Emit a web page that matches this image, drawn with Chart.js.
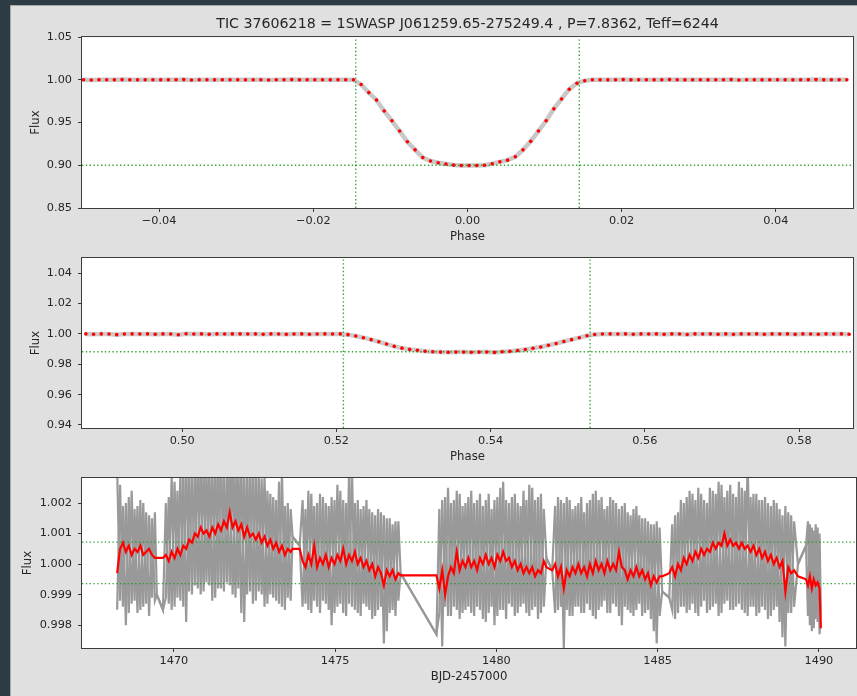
<!DOCTYPE html>
<html>
<head>
<meta charset="utf-8">
<script src="https://cdn.jsdelivr.net/npm/chart.js@4.4.1/dist/chart.umd.min.js"></script>
<style>
  html, body { margin: 0; padding: 0; background: #2d3b42; overflow: hidden; }
  #fig { position: absolute; left: 10px; top: 5px; width: 847px; height: 691px; background: #e0e0e0;
         border-left: 1px solid #a8a8a8; border-top: 1px solid #a8a8a8; }
  canvas { position: absolute; left: 11px; }
</style>
</head>
<body>
<div id="fig"></div>
<canvas id="c1" width="846" height="246" style="top:6px"></canvas>
<canvas id="c2" width="846" height="222" style="top:252px"></canvas>
<canvas id="c3" width="846" height="222" style="top:474px"></canvas>
<script>
Chart.defaults.font.family = "'DejaVu Sans', sans-serif";
Chart.defaults.font.size = 11.3;
Chart.defaults.color = '#262626';

const title = 'TIC 37606218 = 1SWASP J061259.65-275249.4 , P=7.8362, Teff=6244';

// --- top: primary transit, binned flux vs phase
const phase1 = [
  -0.0498, -0.0488, -0.0478, -0.0468, -0.0458, -0.0448, -0.0438, -0.0428, -0.0418, -0.0408,
  -0.0398, -0.0388, -0.0378, -0.0368, -0.0358, -0.0348, -0.0338, -0.0328, -0.0318, -0.0308,
  -0.0298, -0.0288, -0.0278, -0.0268, -0.0258, -0.0248, -0.0238, -0.0228, -0.0218, -0.0208,
  -0.0198, -0.0188, -0.0178, -0.0168, -0.0158, -0.0148, -0.0138, -0.0128, -0.0118, -0.0108,
  -0.0098, -0.0088, -0.0078, -0.0068, -0.0058, -0.0048, -0.0038, -0.0028, -0.0018, -0.0008,
  0.0002, 0.0012, 0.0022, 0.0032, 0.0042, 0.0052, 0.0062, 0.0072, 0.0082, 0.0092,
  0.0102, 0.0112, 0.0122, 0.0132, 0.0142, 0.0152, 0.0162, 0.0172, 0.0182, 0.0192,
  0.0202, 0.0212, 0.0222, 0.0232, 0.0242, 0.0252, 0.0262, 0.0272, 0.0282, 0.0292,
  0.0302, 0.0312, 0.0322, 0.0332, 0.0342, 0.0352, 0.0362, 0.0372, 0.0382, 0.0392,
  0.0402, 0.0412, 0.0422, 0.0432, 0.0442, 0.0452, 0.0462, 0.0472, 0.0482, 0.0492
];
const flux1 = [
  1.0000, 0.9998, 1.0001, 1.0000, 0.9999, 1.0002, 1.0000, 0.9999, 1.0001, 1.0000,
  0.9999, 1.0001, 1.0000, 1.0002, 0.9998, 1.0000, 1.0001, 0.9999, 1.0000, 1.0001,
  1.0000, 0.9999, 1.0001, 1.0000, 0.9998, 1.0001, 1.0000, 1.0002, 0.9999, 1.0000,
  1.0001, 1.0000, 0.9999, 1.0001, 1.0000, 1.0000, 0.9945, 0.9850, 0.9762, 0.9635,
  0.9520, 0.9400, 0.9275, 0.9180, 0.9090, 0.9050, 0.9030, 0.9015, 0.9002, 0.8998,
  0.8997, 0.8998, 0.9000, 0.9018, 0.9040, 0.9060, 0.9100, 0.9180, 0.9280, 0.9400,
  0.9520, 0.9660, 0.9776, 0.9890, 0.9960, 0.9988, 1.0000, 1.0001, 0.9999, 1.0000,
  1.0002, 0.9999, 1.0000, 1.0001, 0.9999, 1.0000, 1.0002, 1.0000, 0.9999, 1.0001,
  1.0000, 0.9999, 1.0001, 1.0000, 1.0002, 0.9998, 1.0000, 1.0001, 0.9999, 1.0000,
  1.0001, 1.0000, 0.9999, 1.0001, 1.0000, 1.0002, 0.9999, 1.0000, 1.0001, 1.0000
];
const xRange1 = [-0.05, 0.05];
const yRange1 = [0.85, 1.05];
const edges1 = [-0.0145, 0.0145];
const level1 = 0.90;
const xTicks1 = [-0.04, -0.02, 0.00, 0.02, 0.04];
const xLabels1 = ['\u22120.04', '\u22120.02', '0.00', '0.02', '0.04'];
const yTicks1 = [0.85, 0.90, 0.95, 1.00, 1.05];
const yLabels1 = ['0.85', '0.90', '0.95', '1.00', '1.05'];

// --- middle: secondary eclipse
const phase2 = [
  0.4875, 0.4885, 0.4895, 0.4905, 0.4915, 0.4925, 0.4935, 0.4945, 0.4955, 0.4965,
  0.4975, 0.4985, 0.4995, 0.5005, 0.5015, 0.5025, 0.5035, 0.5045, 0.5055, 0.5065,
  0.5075, 0.5085, 0.5095, 0.5105, 0.5115, 0.5125, 0.5135, 0.5145, 0.5155, 0.5165,
  0.5175, 0.5185, 0.5195, 0.5205, 0.5215, 0.5225, 0.5235, 0.5245, 0.5255, 0.5265,
  0.5275, 0.5285, 0.5295, 0.5305, 0.5315, 0.5325, 0.5335, 0.5345, 0.5355, 0.5365,
  0.5375, 0.5385, 0.5395, 0.5405, 0.5415, 0.5425, 0.5435, 0.5445, 0.5455, 0.5465,
  0.5475, 0.5485, 0.5495, 0.5505, 0.5515, 0.5525, 0.5535, 0.5545, 0.5555, 0.5565,
  0.5575, 0.5585, 0.5595, 0.5605, 0.5615, 0.5625, 0.5635, 0.5645, 0.5655, 0.5665,
  0.5675, 0.5685, 0.5695, 0.5705, 0.5715, 0.5725, 0.5735, 0.5745, 0.5755, 0.5765,
  0.5775, 0.5785, 0.5795, 0.5805, 0.5815, 0.5825, 0.5835, 0.5845, 0.5855, 0.5865
];
const flux2 = [
  1.0000, 0.9998, 1.0000, 0.9999, 0.9995, 0.9999, 1.0000, 0.9999, 1.0000, 0.9998,
  1.0000, 0.9999, 0.9994, 1.0001, 0.9999, 1.0000, 0.9998, 1.0000, 0.9999, 1.0000,
  1.0000, 0.9999, 1.0000, 0.9998, 1.0000, 0.9999, 0.9997, 0.9999, 1.0000, 0.9998,
  0.9999, 1.0000, 0.9999, 1.0000, 0.9995, 0.9986, 0.9975, 0.9962, 0.9948, 0.9933,
  0.9918, 0.9906, 0.9898, 0.9892, 0.9886, 0.9882, 0.9880, 0.9879, 0.9880, 0.9880,
  0.9879, 0.9880, 0.9881, 0.9878, 0.9882, 0.9885, 0.9891, 0.9897, 0.9905, 0.9914,
  0.9925, 0.9937, 0.9950, 0.9962, 0.9975, 0.9988, 0.9996, 0.9999, 1.0000, 0.9999,
  1.0000, 0.9998, 1.0000, 0.9999, 1.0000, 0.9997, 1.0000, 0.9999, 0.9996, 1.0000,
  0.9999, 1.0000, 0.9998, 1.0000, 0.9997, 1.0000, 0.9999, 1.0000, 0.9998, 1.0000,
  0.9999, 1.0000, 0.9997, 1.0000, 0.9999, 0.9998, 1.0000, 0.9999, 1.0000, 0.9998
];
const xRange2 = [0.487, 0.587];
const yRange2 = [0.938, 1.05];
const edges2 = [0.5209, 0.5529];
const level2 = 0.9882;
const xTicks2 = [0.50, 0.52, 0.54, 0.56, 0.58];
const xLabels2 = ['0.50', '0.52', '0.54', '0.56', '0.58'];
const yTicks2 = [0.94, 0.96, 0.98, 1.00, 1.02, 1.04];
const yLabels2 = ['0.94', '0.96', '0.98', '1.00', '1.02', '1.04'];

// --- bottom: light curve vs time (raw in grey, running median in red)
const bjd = [
  1468.24, 1468.33, 1468.42, 1468.51, 1468.60, 1468.69, 1468.78, 1468.87, 1468.96, 1469.05,
  1469.14, 1469.23, 1469.32, 1469.41, 1469.47,
  1469.66, 1469.75, 1469.84, 1469.93, 1470.02, 1470.11, 1470.20, 1470.29, 1470.38, 1470.47,
  1470.56, 1470.65, 1470.74, 1470.83, 1470.92, 1471.01, 1471.10, 1471.19, 1471.28, 1471.37,
  1471.46, 1471.55, 1471.64, 1471.73, 1471.82, 1471.91, 1472.00, 1472.09, 1472.18, 1472.27,
  1472.36, 1472.45, 1472.54, 1472.63, 1472.72, 1472.81, 1472.90, 1472.99, 1473.08, 1473.17,
  1473.26, 1473.35, 1473.44, 1473.53, 1473.62, 1473.68,
  1473.90, 1473.99, 1474.08, 1474.17, 1474.26, 1474.35, 1474.44, 1474.53, 1474.62, 1474.71,
  1474.80, 1474.89, 1474.98, 1475.07, 1475.16, 1475.25, 1475.34, 1475.43, 1475.52, 1475.61,
  1475.70, 1475.79, 1475.88, 1475.97, 1476.06, 1476.15, 1476.24, 1476.33, 1476.42, 1476.51,
  1476.60, 1476.69, 1476.78, 1476.87, 1476.96, 1477.03,
  1478.14, 1478.23, 1478.32, 1478.41, 1478.50, 1478.59, 1478.68, 1478.77, 1478.86, 1478.95,
  1479.04, 1479.13, 1479.22, 1479.31, 1479.40, 1479.49, 1479.58, 1479.67, 1479.76, 1479.85,
  1479.94, 1480.03, 1480.12, 1480.21, 1480.30, 1480.39, 1480.48, 1480.57, 1480.66, 1480.75,
  1480.84, 1480.93, 1481.02, 1481.11, 1481.20, 1481.29, 1481.38, 1481.47, 1481.55,
  1481.73, 1481.82, 1481.91, 1482.00, 1482.09, 1482.18, 1482.27, 1482.36, 1482.45, 1482.54,
  1482.63, 1482.72, 1482.81, 1482.90, 1482.99, 1483.08, 1483.17, 1483.26, 1483.35, 1483.44,
  1483.53, 1483.62, 1483.71, 1483.80, 1483.89, 1483.98, 1484.07, 1484.16, 1484.25, 1484.34,
  1484.43, 1484.52, 1484.61, 1484.70, 1484.79, 1484.88, 1484.97, 1485.06, 1485.14,
  1485.36, 1485.45, 1485.54, 1485.63, 1485.72, 1485.81, 1485.90, 1485.99, 1486.08, 1486.17,
  1486.26, 1486.35, 1486.44, 1486.53, 1486.62, 1486.71, 1486.80, 1486.89, 1486.98, 1487.07,
  1487.16, 1487.25, 1487.34, 1487.43, 1487.52, 1487.61, 1487.70, 1487.79, 1487.88, 1487.97,
  1488.06, 1488.15, 1488.24, 1488.33, 1488.42, 1488.51, 1488.60, 1488.69, 1488.78, 1488.87,
  1488.96, 1489.05, 1489.14, 1489.23, 1489.35,
  1489.60, 1489.66, 1489.72, 1489.78, 1489.84, 1489.90, 1489.96, 1490.02, 1490.06
];
// raw flux, two interleaved cadences
const fluxRaw = [
  1.0031, 0.9988, 1.0019, 0.9980, 1.0022, 0.9987, 1.0018, 0.9984, 1.0021, 0.9986,
  1.0017, 0.9983, 1.0015, 0.9988, 0.9990,
  0.9985, 1.0020, 0.9987, 1.0029, 0.9986, 1.0024, 0.9988, 1.0031, 0.9981, 1.0032,
  0.9990, 1.0030, 0.9992, 1.0033, 0.9991, 1.0031, 0.9993, 1.0032, 0.9989, 1.0034,
  0.9992, 1.0030, 0.9994, 1.0035, 0.9990, 1.0031, 0.9992, 1.0033, 0.9981, 1.0030,
  0.9991, 1.0032, 0.9988, 1.0030, 0.9990, 1.0029, 0.9987, 1.0023, 0.9989, 1.0021,
  0.9987, 1.0030, 0.9985, 1.0020, 0.9988, 1.0009,
  1.0006, 0.9986, 1.0018, 0.9985, 1.0023, 0.9988, 1.0020, 0.9984, 1.0022, 0.9987,
  1.0019, 0.9980, 1.0021, 0.9986, 1.0024, 0.9984, 1.0020, 0.9987, 1.0032, 0.9985,
  1.0021, 0.9983, 1.0019, 0.9986, 1.0018, 0.9982, 1.0016, 0.9985, 1.0017, 0.9974,
  1.0015, 0.9984, 1.0013, 0.9983, 1.0014, 0.9997,
  0.9977, 1.0018, 0.9973, 1.0022, 0.9983, 1.0020, 0.9986, 1.0024, 0.9982, 1.0019,
  0.9985, 1.0022, 0.9984, 1.0020, 0.9986, 1.0023, 0.9982, 1.0021, 0.9984, 1.0018,
  0.9980, 1.0022, 0.9985, 1.0027, 0.9982, 1.0020, 0.9986, 1.0023, 0.9984, 1.0019,
  0.9987, 1.0021, 0.9983, 1.0025, 0.9986, 1.0022, 0.9984, 1.0018, 1.0002,
  0.9998, 1.0019, 0.9985, 1.0021, 0.9972, 1.0022, 0.9983, 1.0018, 0.9986, 1.0020,
  0.9984, 1.0017, 0.9987, 1.0021, 0.9983, 1.0024, 0.9985, 1.0022, 0.9988, 1.0019,
  0.9984, 1.0021, 0.9986, 1.0018, 0.9980, 1.0020, 0.9985, 1.0016, 0.9983, 1.0019,
  0.9987, 1.0015, 0.9984, 1.0014, 0.9982, 1.0013, 0.9974, 1.0012, 0.9991,
  0.9989, 1.0013, 0.9982, 1.0017, 0.9986, 1.0020, 0.9984, 1.0024, 0.9987, 1.0021,
  0.9983, 1.0023, 0.9988, 1.0020, 0.9985, 1.0024, 0.9987, 1.0027, 0.9984, 1.0022,
  0.9988, 1.0026, 0.9985, 1.0022, 0.9987, 1.0025, 0.9984, 1.0034, 0.9986, 1.0023,
  0.9983, 1.0021, 0.9986, 1.0022, 0.9982, 1.0019, 0.9985, 1.0020, 0.9981, 1.0016,
  0.9973, 1.0017, 0.9984, 1.0014, 1.0000,
  1.0006, 0.9983, 1.0013, 0.9978, 1.0011, 0.9982, 1.0012, 0.9977, 0.9985
];
const fluxRawB = [
  0.9985, 1.0026, 0.9986, 1.0020, 0.9984, 1.0024, 0.9988, 1.0019, 0.9985, 1.0020,
  0.9987, 1.0016, 0.9989, 1.0017, 0.9990,
  0.9985, 0.9989, 1.0022, 0.9985, 1.0027, 0.9989, 1.0030, 0.9986, 1.0033, 0.9991,
  1.0031, 0.9993, 1.0034, 0.9990, 1.0032, 0.9994, 1.0031, 0.9988, 1.0033, 0.9992,
  1.0036, 0.9991, 1.0030, 0.9993, 1.0034, 0.9989, 1.0032, 0.9984, 1.0030, 0.9990,
  1.0033, 0.9987, 1.0031, 0.9991, 1.0028, 0.9986, 1.0024, 0.9990, 1.0022, 0.9988,
  1.0027, 0.9986, 1.0019, 0.9989, 1.0018, 1.0009,
  1.0006, 1.0021, 0.9987, 1.0024, 0.9984, 1.0019, 0.9986, 1.0023, 0.9988, 1.0020,
  0.9985, 1.0022, 0.9984, 1.0026, 0.9987, 1.0021, 0.9983, 1.0029, 0.9986, 1.0020,
  0.9984, 1.0018, 0.9987, 1.0021, 0.9985, 1.0017, 0.9983, 1.0018, 0.9986, 1.0016,
  0.9978, 1.0015, 0.9985, 1.0014, 0.9988, 0.9997,
  0.9977, 0.9984, 1.0021, 0.9986, 1.0025, 0.9983, 1.0021, 0.9985, 1.0023, 0.9984,
  1.0020, 0.9986, 1.0024, 0.9983, 1.0021, 0.9985, 1.0019, 0.9981, 1.0023, 0.9986,
  1.0021, 0.9983, 1.0025, 0.9985, 1.0021, 0.9987, 1.0022, 0.9983, 1.0020, 0.9986,
  1.0024, 0.9984, 1.0026, 0.9985, 1.0021, 0.9982, 1.0023, 0.9986, 1.0002,
  0.9998, 0.9984, 1.0022, 0.9986, 1.0020, 0.9985, 1.0021, 0.9983, 1.0019, 0.9986,
  1.0022, 0.9984, 1.0020, 0.9985, 1.0023, 0.9982, 1.0021, 0.9986, 1.0018, 0.9984,
  1.0022, 0.9987, 1.0020, 0.9983, 1.0019, 0.9986, 1.0017, 0.9984, 1.0018, 0.9985,
  1.0016, 0.9983, 1.0015, 0.9985, 1.0013, 0.9978, 1.0014, 0.9983, 0.9991,
  0.9989, 0.9985, 1.0016, 0.9984, 1.0021, 0.9986, 1.0022, 0.9985, 1.0023, 0.9984,
  1.0025, 0.9986, 1.0021, 0.9984, 1.0025, 0.9986, 1.0023, 0.9983, 1.0026, 0.9987,
  1.0024, 0.9985, 1.0023, 0.9986, 1.0027, 0.9985, 1.0024, 0.9983, 1.0022, 0.9986,
  1.0023, 0.9984, 1.0021, 0.9985, 1.0020, 0.9983, 1.0021, 0.9986, 1.0018, 0.9976,
  1.0019, 0.9984, 1.0016, 0.9986, 1.0000,
  1.0006, 1.0014, 0.9980, 1.0012, 0.9979, 1.0013, 0.9981, 1.0010, 0.9985
];
const fluxSmooth = [
  0.9997, 1.0005, 1.0007, 1.0004, 1.0006, 1.0003, 1.0005, 1.0004, 1.0006, 1.0003,
  1.0004, 1.0005, 1.0003, 1.0002, 1.0002,
  1.0002, 1.0003, 1.0001, 1.0004, 1.0002, 1.0005, 1.0003, 1.0006, 1.0005, 1.0008,
  1.0007, 1.0010, 1.0009, 1.0012, 1.0010, 1.0011, 1.0009, 1.0012, 1.0010, 1.0013,
  1.0011, 1.0014, 1.0012, 1.0017, 1.0012, 1.0014, 1.0011, 1.0013, 1.0009, 1.0012,
  1.0009, 1.0010, 1.0008, 1.0010, 1.0007, 1.0009, 1.0006, 1.0008, 1.0005, 1.0007,
  1.0004, 1.0006, 1.0003, 1.0005, 1.0004, 1.0005,
  1.0005, 1.0001, 0.9999, 1.0003, 1.0000, 1.0006, 0.9999, 1.0002, 1.0000, 1.0003,
  0.9999, 1.0002, 1.0000, 1.0003, 1.0001, 1.0005, 1.0000, 1.0003, 1.0001, 1.0004,
  1.0000, 1.0002, 0.9999, 1.0001, 0.9998, 1.0000, 0.9996, 0.9999, 0.9997, 0.9993,
  0.9998, 0.9996, 0.9998, 0.9995, 0.9997, 0.99963,
  0.99963, 0.9992, 0.9998, 0.9990, 0.9996, 0.9999, 0.9997, 1.0004, 0.9998, 1.0001,
  0.9999, 1.0002, 0.9999, 1.0001, 0.9998, 1.0002, 1.0000, 1.0003, 1.0000, 1.0002,
  0.9999, 1.0003, 1.0001, 1.0004, 1.0001, 1.0002, 0.9999, 1.0001, 0.9998, 1.0000,
  0.9997, 0.9999, 0.9997, 0.9999, 0.9996, 0.9998, 0.9997, 1.0001, 0.9999,
  0.9998, 1.0000, 0.9996, 0.9999, 0.9992, 0.9998, 0.9996, 0.9999, 0.9997, 1.0000,
  0.9997, 0.9999, 0.9996, 1.0000, 0.9997, 1.0001, 0.9998, 1.0000, 0.9997, 1.0001,
  0.9998, 1.0000, 0.9998, 1.0004, 0.9999, 0.9998, 0.9995, 0.9998, 0.9996, 0.9999,
  0.9996, 0.9998, 0.9995, 0.9997, 0.9993, 0.9996, 0.9994, 0.9996, 0.9996,
  0.9997, 0.9999, 0.9996, 1.0000, 0.9998, 1.0002, 1.0000, 1.0003, 1.0001, 1.0004,
  1.0002, 1.0005, 1.0003, 1.0005, 1.0004, 1.0007, 1.0005, 1.0007, 1.0006, 1.0010,
  1.0006, 1.0008, 1.0006, 1.0007, 1.0005, 1.0007, 1.0005, 1.0006, 1.0004, 1.0006,
  1.0003, 1.0005, 1.0002, 1.0004, 1.0001, 1.0003, 1.0000, 1.0002, 0.9999, 1.0001,
  0.9991, 0.9999, 0.9997, 0.9998, 0.9996,
  0.9995, 0.9993, 0.9996, 0.9992, 0.9995, 0.9993, 0.9994, 0.9992, 0.9979
];
const xRange3 = [1467.15, 1491.15];
const yRange3 = [0.99725, 1.00282];
const levels3 = [1.00072, 0.99936];
const xTicks3 = [1470, 1475, 1480, 1485, 1490];
const xLabels3 = ['1470', '1475', '1480', '1485', '1490'];
const yTicks3 = [0.998, 0.999, 1.000, 1.001, 1.002];
const yLabels3 = ['0.998', '0.999', '1.000', '1.001', '1.002'];

const pts = (xs, ys) => xs.map((x, i) => ({ x: x, y: ys[i] }));

const green = { showLine: true, borderColor: 'rgba(20,150,20,0.85)', borderWidth: 1.4,
  borderDash: [1.4, 2.4], pointRadius: 0, order: 1 };
const vline = (x, yr) => Object.assign({ data: [{ x: x, y: yr[0] }, { x: x, y: yr[1] }] }, green);
const hline = (y, xr) => Object.assign({ data: [{ x: xr[0], y: y }, { x: xr[1], y: y }] }, green);

// white plot area + dark frame
const frame = {
  id: 'frame',
  beforeDraw(chart) {
    const { ctx, chartArea: a } = chart;
    ctx.save();
    ctx.fillStyle = '#ffffff';
    ctx.fillRect(a.left, a.top, a.width, a.height);
    ctx.restore();
  },
  afterDraw(chart) {
    const { ctx, chartArea: a } = chart;
    ctx.save();
    ctx.strokeStyle = '#3c3c3c';
    ctx.lineWidth = 1;
    ctx.strokeRect(a.left - 0.5, a.top - 0.5, a.width + 1, a.height + 1);
    ctx.restore();
  }
};

function scales(xr, xt, xl, xTitle, yr, yt, yl, yWidth) {
  const grid = { drawOnChartArea: false, tickLength: 4, color: '#3c3c3c' };
  return {
    x: {
      type: 'linear', min: xr[0], max: xr[1],
      grid: grid, border: { display: false },
      afterBuildTicks: s => { s.ticks = xt.map(v => ({ value: v })); },
      afterFit: s => { s.height = 40; },
      ticks: { autoSkip: false, maxRotation: 0, padding: 2, callback: (v, i) => xl[i] },
      title: { display: true, text: xTitle, font: { size: 11.7 }, padding: { top: 0, bottom: 4 } }
    },
    y: {
      type: 'linear', min: yr[0], max: yr[1],
      grid: grid, border: { display: false },
      afterBuildTicks: s => { s.ticks = yt.map(v => ({ value: v })); },
      afterFit: s => { s.width = yWidth; s.paddingTop = 0; s.paddingBottom = 0; },
      ticks: { autoSkip: false, padding: 6, callback: (v, i) => yl[i] },
      title: { display: true, text: 'Flux', font: { size: 11.7 }, padding: { top: 4, bottom: 0 } }
    }
  };
}

function baseOptions(pad) {
  return {
    responsive: false, animation: false, events: [],
    layout: { padding: pad },
    plugins: { legend: { display: false }, tooltip: { enabled: false }, title: { display: false } }
  };
}

// panel 1
const opt1 = baseOptions({ left: 14, right: 1, top: 0, bottom: 4 });
opt1.scales = scales(xRange1, xTicks1, xLabels1, 'Phase', yRange1, yTicks1, yLabels1, 57);
opt1.plugins.title = { display: true, text: title, fullSize: false, color: '#262626',
  font: { size: 14.2, weight: 'normal' }, padding: { top: 10, bottom: 4 } };
new Chart(document.getElementById('c1'), {
  type: 'scatter',
  data: { datasets: [
    { data: pts(phase1, flux1), pointRadius: 1.8, pointBackgroundColor: '#ff0000', pointBorderWidth: 0, order: 0 },
    vline(edges1[0], yRange1), vline(edges1[1], yRange1), hline(level1, xRange1),
    { data: pts(phase1, flux1), showLine: true, borderColor: 'rgba(110,110,110,0.38)', borderWidth: 4.5,
      pointRadius: 0, order: 3 }
  ] },
  options: opt1,
  plugins: [frame]
});

// panel 2
const opt2 = baseOptions({ left: 14, right: 1, top: 6, bottom: 6 });
opt2.scales = scales(xRange2, xTicks2, xLabels2, 'Phase', yRange2, yTicks2, yLabels2, 57);
new Chart(document.getElementById('c2'), {
  type: 'scatter',
  data: { datasets: [
    { data: pts(phase2, flux2), pointRadius: 1.8, pointBackgroundColor: '#ff0000', pointBorderWidth: 0, order: 0 },
    vline(edges2[0], yRange2), vline(edges2[1], yRange2), hline(level2, xRange2),
    { data: pts(phase2, flux2), showLine: true, borderColor: 'rgba(110,110,110,0.35)', borderWidth: 4.5,
      pointRadius: 0, order: 3 }
  ] },
  options: opt2,
  plugins: [frame]
});

// panel 3
const opt3 = baseOptions({ left: 6, right: 1, top: 4, bottom: 8 });
opt3.scales = scales(xRange3, xTicks3, xLabels3, 'BJD-2457000', yRange3, yTicks3, yLabels3, 65);
const rawStyle = { showLine: true, borderColor: '#999999', borderWidth: 2.2, pointRadius: 0, clip: 0, order: 3 };
new Chart(document.getElementById('c3'), {
  type: 'scatter',
  data: { datasets: [
    { data: pts(bjd, fluxSmooth), showLine: true, borderColor: '#ff0000', borderWidth: 2.2,
      pointRadius: 0, order: 0 },
    hline(levels3[0], xRange3), hline(levels3[1], xRange3),
    Object.assign({ data: pts(bjd, fluxRaw) }, rawStyle),
    Object.assign({ data: pts(bjd, fluxRawB) }, rawStyle)
  ] },
  options: opt3,
  plugins: [frame]
});
</script>
</body>
</html>
